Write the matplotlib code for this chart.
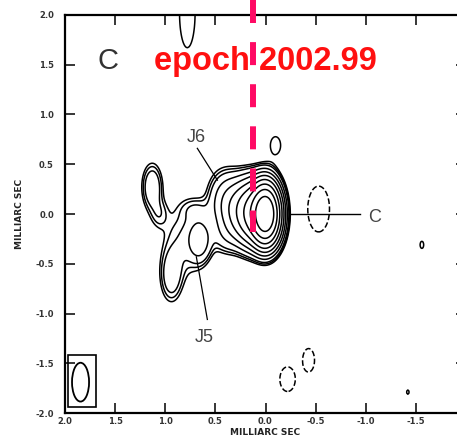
import numpy as np
import matplotlib
matplotlib.use("Agg")
import matplotlib.pyplot as plt
from matplotlib.patches import Ellipse, Rectangle

# ---- Data: Gaussian model components of the VLBI map (mas) ----
comp_x    = [0.00, 0.13, 0.28, 0.42, 0.40, 0.70, 1.13, 1.06, 0.82, 0.94, 0.66, 0.78, -0.10, -1.56, -1.42, -0.53, -0.43, -0.22]
comp_y    = [0.00, 0.01, 0.04, 0.14, -0.22, 0.05, 0.27, 0.00, -0.28, -0.62, -0.26, 2.02, 0.69, -0.31, -1.79, 0.05, -1.47, -1.66]
comp_flux = [1.0, 0.15, 0.03, 0.008, 0.004, 0.003, 0.0072, 0.003, 0.004, 0.006, 0.013, 0.0027, 0.0026, 0.0026, 0.0024, -0.005, -0.004, -0.004]
comp_sx   = [0.07, 0.09, 0.10, 0.10, 0.10, 0.10, 0.065, 0.06, 0.14, 0.07, 0.07, 0.10, 0.07, 0.025, 0.02, 0.08, 0.05, 0.065]
comp_sy   = [0.145, 0.16, 0.17, 0.18, 0.12, 0.08, 0.15, 0.10, 0.25, 0.17, 0.13, 0.45, 0.12, 0.05, 0.035, 0.17, 0.10, 0.105]

base_level = 0.002
level_factors = [-1, 1, 1.4, 2, 4, 8, 16, 32, 64, 128, 256]

beam_x, beam_y, beam_w, beam_h = 1.845, -1.69, 0.17, 0.39
box_x0, box_y0, box_x1, box_y1 = 1.97, -1.94, 1.69, -1.42

x_ticks = [2.0, 1.5, 1.0, 0.5, 0.0, -0.5, -1.0, -1.5, -2.0]
x_tick_labels = ["2.0", "1.5", "1.0", "0.5", "0.0", "-0.5", "-1.0", "-1.5", "-2.0"]
y_ticks = [2.0, 1.5, 1.0, 0.5, 0.0, -0.5, -1.0, -1.5, -2.0]
y_tick_labels = ["2.0", "1.5", "1.0", "0.5", "0.0", "-0.5", "-1.0", "-1.5", "-2.0"]

epoch_x = 0.12
epoch_text = "epoch 2002.99"

# ---- Build model image ----
gx = np.linspace(-2.2, 2.2, 441)
gy = np.linspace(-2.2, 2.4, 461)
X, Y = np.meshgrid(gx, gy)
Z = np.zeros_like(X)
for cx, cy, f, sx, sy in zip(comp_x, comp_y, comp_flux, comp_sx, comp_sy):
    Z += f * np.exp(-0.5 * (((X - cx) / sx) ** 2 + ((Y - cy) / sy) ** 2))

levels = [base_level * k for k in level_factors]

fig = plt.figure(figsize=(4.57, 4.40), dpi=100)
ax = fig.add_axes([65 / 457, 27 / 440, 401 / 457, 398 / 440])

ax.contour(X, Y, Z, levels=levels, colors="black", linewidths=1.1,
           linestyles=["dashed" if l < 0 else "solid" for l in levels])

ax.set_xlim(2.0, -2.0)
ax.set_ylim(-2.0, 2.0)

# beam
ax.add_patch(Ellipse((beam_x, beam_y), beam_w, beam_h, fill=False, lw=1.3, ec="black"))
ax.add_patch(Rectangle((box_x1, box_y0), box_x0 - box_x1, box_y1 - box_y0,
                       fill=False, lw=1.2, ec="black"))

# red dashed epoch line
ax.plot([epoch_x, epoch_x], [2.15, -0.18], color="#FF0A64", lw=4.3,
        linestyle=(0, (3.85, 3.2)), solid_capstyle="butt", dash_capstyle="butt",
        clip_on=False, zorder=5)

ax.text(0.0, 1.45, epoch_text, color="#FF1010", fontsize=23.5, fontweight="bold",
        family="Liberation Sans", ha="center", va="baseline", zorder=4)
ax.text(1.68, 1.46, "C", color="#333333", fontsize=21, family="Liberation Sans",
        ha="left", va="baseline")

# component labels and pointers
ax.text(0.79, 0.72, "J6", color="#444444", fontsize=13, family="Liberation Sans",
        ha="left", va="baseline")
ax.plot([0.68, 0.48], [0.66, 0.34], color="black", lw=0.9)
ax.text(0.71, -1.29, "J5", color="#444444", fontsize=13, family="Liberation Sans",
        ha="left", va="baseline")
ax.plot([0.69, 0.58], [-0.43, -1.06], color="black", lw=0.9)
ax.text(-1.02, -0.08, "C", color="#444444", fontsize=13, family="Liberation Sans",
        ha="left", va="baseline")
ax.plot([-0.24, -0.94], [0.0, 0.0], color="black", lw=1.0)

ax.set_xticks(x_ticks)
ax.set_xticklabels(x_tick_labels)
ax.set_yticks(y_ticks)
ax.set_yticklabels(y_tick_labels)
ax.tick_params(direction="in", length=7.5, width=1.1, top=True, right=True,
               labelsize=6, pad=3)
ax.tick_params(axis="y", pad=8)
for lab in ax.get_xticklabels() + ax.get_yticklabels():
    lab.set_fontweight("bold")
    lab.set_color("#333333")
for s in ax.spines.values():
    s.set_linewidth(1.6)

ax.set_xlabel("MILLIARC SEC", fontsize=6.5, fontweight="bold", color="#222222", labelpad=1)
ax.set_ylabel("MILLIARC SEC", fontsize=6.5, fontweight="bold", color="#222222", labelpad=8)

fig.savefig("out.png", dpi=100)
